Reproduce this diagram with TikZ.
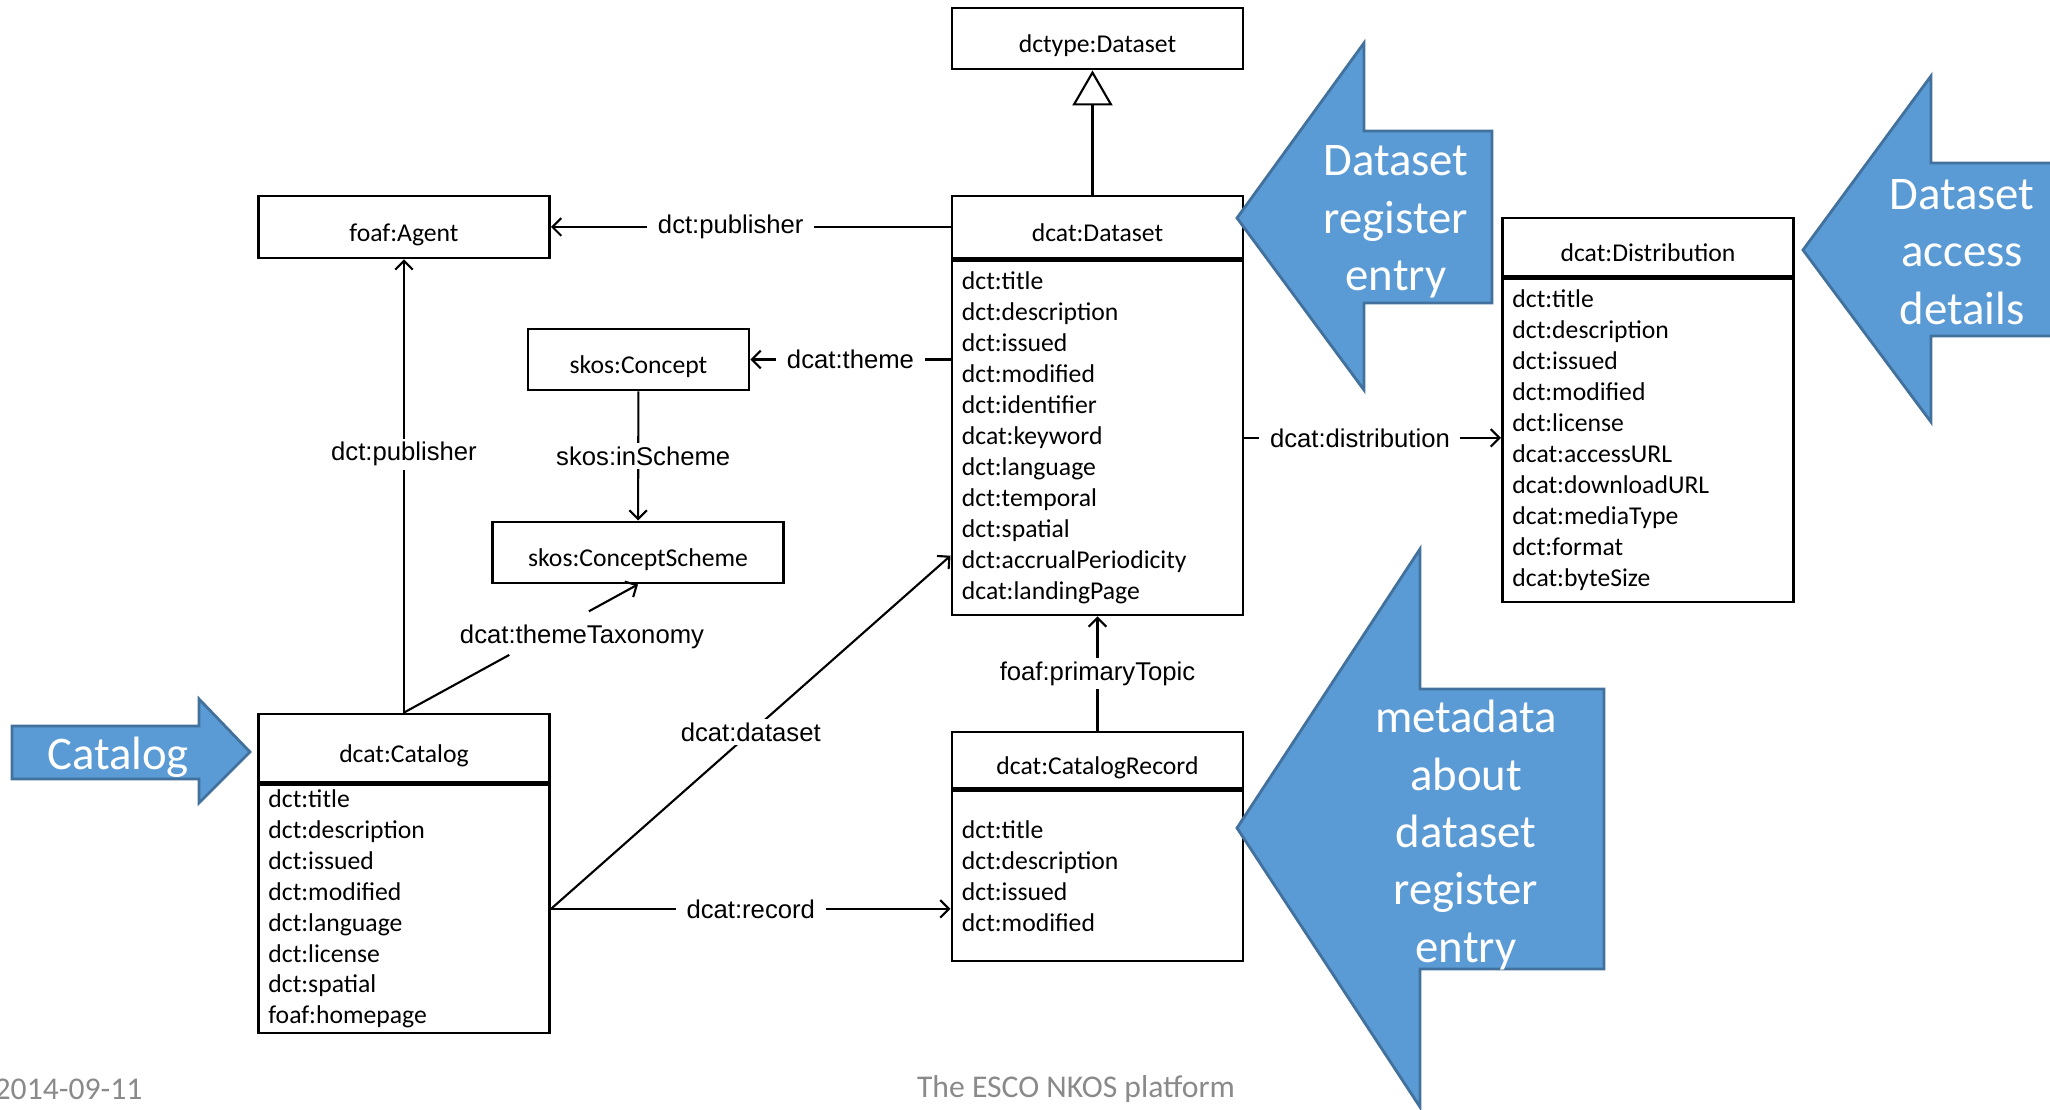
\documentclass[tikz,border=0pt]{standalone}
\usepackage{fontspec}
\setmainfont{Carlito}
\newfontfamily\lblfont{Liberation Sans}
\usetikzlibrary{positioning,arrows.meta,calc}

\definecolor{callfill}{HTML}{5B9BD5}
\definecolor{calledge}{HTML}{41719C}
\definecolor{footgray}{HTML}{8A8A8A}

\tikzset{
	cls/.style={draw, thick, rectangle, minimum width=2.91cm, minimum height=0.61cm, inner sep=0pt, text height=0.8em, text depth=0pt, font=\fontsize{7.3}{8.8}\selectfont},
	attrs/.style={draw, thick, rectangle, text width=2.71cm, inner xsep=0.1cm, inner ysep=0pt, align=left, font=\fontsize{7.3}{8.8}\selectfont},
	lbl/.style={fill=white, inner xsep=3pt, inner ysep=1pt, font=\lblfont\fontsize{7.3}{8.8}\selectfont},
	rel/.style={semithick, -{Straight Barb[length=2.5pt,width=5pt]}},
	callout/.style={fill=callfill, draw=calledge, line width=0.8pt},
	calltext/.style={text=white, align=center, inner sep=0pt, font=\fontsize{13.3}{16.3}\selectfont},
	foot/.style={text=footgray, inner sep=0pt, font=\fontsize{9}{11}\selectfont},
}

\begin{document}
\begin{tikzpicture}[x=0.01cm, y=-0.01cm]
	\useasboundingbox (0,0) rectangle (2050,1110);

	% classes
	\node[cls] (dctype) at (1097.5,38.5) {dctype:Dataset};
	\node[cls, minimum height=0.62cm] (ds) at (1097.5,227) {dcat:Dataset};
	\node[attrs, minimum height=3.54cm, below=0pt of ds] (dsbody) {dct:title\\dct:description\\dct:issued\\dct:modified\\dct:identifier\\dcat:keyword\\dct:language\\dct:temporal\\dct:spatial\\dct:accrualPeriodicity\\dcat:landingPage};

	\node[cls, minimum height=0.62cm] (agent) at (404,227) {foaf:Agent};
	\node[cls, minimum width=2.21cm] (concept) at (638.5,359.5) {skos:Concept};
	\node[cls] (scheme) at (638,552.5) {skos:ConceptScheme};

	\node[cls, minimum height=0.68cm] (cat) at (404,748) {dcat:Catalog};
	\node[attrs, minimum height=2.48cm, below=0pt of cat] (catbody) {dct:title\\dct:description\\dct:issued\\dct:modified\\dct:language\\dct:license\\dct:spatial\\foaf:homepage};

	\node[cls, minimum height=0.56cm] (rec) at (1097.5,760) {dcat:CatalogRecord};
	\node[attrs, minimum height=1.70cm, below=0pt of rec] (recbody) {dct:title\\dct:description\\dct:issued\\dct:modified};

	\node[cls, minimum height=0.58cm] (dist) at (1648,247) {dcat:Distribution};
	\node[attrs, minimum height=3.23cm, below=0pt of dist] (distbody) {dct:title\\dct:description\\dct:issued\\dct:modified\\dct:license\\dcat:accessURL\\dcat:downloadURL\\dcat:mediaType\\dct:format\\dcat:byteSize};

	% relations
	\draw[semithick, -{Triangle[open, length=0.35cm, width=0.4cm]}] ([xshift=-0.05cm]ds.north) -- ([xshift=-0.05cm]dctype.south);
	\draw[rel] (ds.west) -- node[lbl, pos=0.55] {dct:publisher} (agent);
	\draw[rel] (dsbody.west |- concept) -- node[lbl] {dcat:theme} (concept);
	\draw[rel] (concept) -- node[lbl, xshift=0.05cm] {skos:inScheme} (scheme);
	\draw[rel] (cat) -- node[lbl, pos=0.57] {dct:publisher} (agent);
	\draw[semithick] (cat.north) -- ($(cat.north)!0.45!(scheme.south)$);
	\draw[rel] ($(cat.north)!0.79!(scheme.south)$) -- (scheme.south);
	\node[lbl, fill=none] (taxlbl) at (582,637) {dcat:themeTaxonomy};
	\draw[rel] (catbody.east) -- node[lbl] {dcat:dataset} ($(dsbody.south west)!0.17!(dsbody.north west)$);
	\draw[rel] (catbody.east) -- node[lbl] {dcat:record} (catbody.east -| recbody.west);
	\draw[rel] (rec) -- node[lbl] {foaf:primaryTopic} (dsbody);
	\draw[rel] (dsbody.east) -- node[lbl, pos=0.45] {dcat:distribution} (dsbody.east -| distbody.west);

	% callouts
	\draw[callout] (1237,218) -- (1364,43) -- (1364,131) -- (1492,131) -- (1492,303) -- (1364,303) -- (1364,390) -- cycle;
	\node[calltext] (regtxt) at (1396,222) {Dataset\\register\\entry};
	\draw[callout] (1803,250) -- (1931,76) -- (1931,163) -- (2060,163) -- (2060,336) -- (1931,336) -- (1931,422) -- cycle;
	\node[calltext] (acctxt) at (1962,252) {Dataset\\access\\details};
	\draw[callout] (1237,828) -- (1420,549) -- (1420,689) -- (1604,689) -- (1604,969) -- (1420,969) -- (1420,1107) -- cycle;
	\node[calltext] (metatxt) at (1466,835) {metadata\\about\\dataset\\register\\entry};
	\draw[callout] (12,726) -- (199,726) -- (199,699) -- (250,752) -- (199,803) -- (199,779) -- (12,779) -- cycle;
	\node[calltext] (cattxt) at (118,757) {Catalog};

	% footer
	\node[foot, anchor=west] (date) at (-6,1089) {2014-09-11};
	\node[foot] (title) at (1076,1089) {The ESCO NKOS platform};
\end{tikzpicture}
\end{document}
